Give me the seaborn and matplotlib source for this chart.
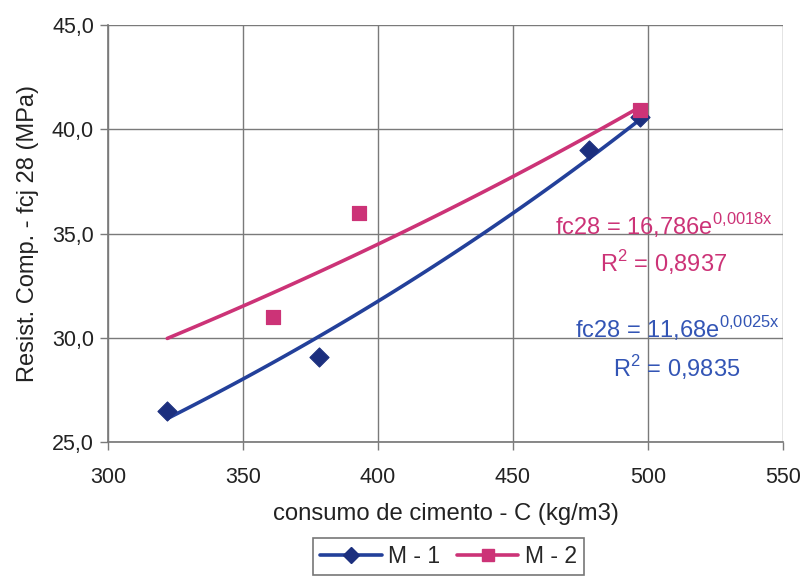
import numpy as np
import pandas as pd
import matplotlib
matplotlib.use("Agg")
import matplotlib.pyplot as plt
from matplotlib.lines import Line2D
import seaborn as sns

# data
m1_x = [322, 378, 478, 497]
m1_y = [26.5, 29.1, 39.0, 40.6]
m2_x = [361, 393, 497]
m2_y = [31.0, 36.0, 40.9]
# trendline equations shown on the chart: fc28 = a*exp(b*x)
m1_a, m1_b = 11.68, 0.0025
m2_a, m2_b = 16.786, 0.0018
trend_range = [322, 497]
series_names = ["M - 1", "M - 2"]

sns.set_theme(style="white")
plt.rcParams['font.family'] = ['Liberation Sans', 'DejaVu Sans']

blue_line = "#23409A"
blue_mark = "#1C2F7E"
pink = "#CC3377"
blue_text = "#3355B5"

fig = plt.figure(figsize=(8.11, 5.76), dpi=100)
ax = fig.add_axes([0.133, 0.2326, 0.8325, 0.724])

xs = np.linspace(trend_range[0], trend_range[1], 100)
t1 = pd.DataFrame({"x": xs, "y": m1_a * np.exp(m1_b * xs)})
t2 = pd.DataFrame({"x": xs, "y": m2_a * np.exp(m2_b * xs)})
sns.lineplot(data=t2, x="x", y="y", ax=ax, color=pink, lw=2.6, zorder=3)
sns.lineplot(data=t1, x="x", y="y", ax=ax, color=blue_line, lw=2.6, zorder=3)

d1 = pd.DataFrame({"x": m1_x, "y": m1_y})
d2 = pd.DataFrame({"x": m2_x, "y": m2_y})
sns.scatterplot(data=d1, x="x", y="y", ax=ax, marker="D", s=95, color=blue_mark,
                edgecolor=blue_mark, zorder=4)
sns.scatterplot(data=d2, x="x", y="y", ax=ax, marker="s", s=115, color=pink,
                edgecolor=pink, zorder=5)

ax.set_xlim(300, 550)
ax.set_ylim(25, 45)
ax.set_xticks(np.arange(300, 551, 50))
ax.set_yticks(np.arange(25, 45.1, 5))
ax.set_yticklabels([f"{v:.1f}".replace(".", ",") for v in np.arange(25, 45.1, 5)])
ax.grid(True, color="#7a7a7a", lw=1.0)
ax.set_axisbelow(True)
for s in ["top", "right"]:
    ax.spines[s].set_visible(False)
for s in ["left", "bottom"]:
    ax.spines[s].set_color("#7a7a7a")
ax.tick_params(axis="both", labelsize=15.5, colors="#222222", length=6,
               direction="out", width=1, color="#7a7a7a", bottom=True, left=True)
ax.tick_params(axis="y", pad=4)
ax.tick_params(axis="x", pad=12)
ax.set_xlabel("consumo de cimento - C (kg/m3)", fontsize=17.2, color="#222222", labelpad=11)
ax.set_ylabel("Resist. Comp. - fcj 28 (MPa)", fontsize=17, color="#222222", labelpad=9)

ax.text(465.6, 34.93, r"fc28 = 16,786e$^{\mathregular{0{,}0018x}}$", color=pink,
        fontsize=17, ha="left", va="baseline")
ax.text(482.2, 33.15, r"R$^{\mathregular{2}}$ = 0,8937", color=pink,
        fontsize=17, ha="left", va="baseline")
ax.text(473.0, 29.99, r"fc28 = 11,68e$^{\mathregular{0{,}0025x}}$", color=blue_text,
        fontsize=17, ha="left", va="baseline")
ax.text(487.0, 28.12, r"R$^{\mathregular{2}}$ = 0,9835", color=blue_text,
        fontsize=17, ha="left", va="baseline")

handles = [
    Line2D([], [], color=blue_line, lw=2.6, marker="D", markersize=8,
           markerfacecolor=blue_mark, markeredgecolor=blue_mark),
    Line2D([], [], color=pink, lw=2.6, marker="s", markersize=9,
           markerfacecolor=pink, markeredgecolor=pink),
]
leg = fig.legend(handles, series_names, loc="upper center", bbox_to_anchor=(0.553, 0.066),
                 ncol=2, frameon=True, fancybox=False, fontsize=16.5,
                 handlelength=2.7, columnspacing=0.7, handletextpad=0.3,
                 borderpad=0.3, borderaxespad=0.0, edgecolor="#555555")
leg.get_frame().set_linewidth(1.2)

fig.savefig("out.png", dpi=100, facecolor="white")
